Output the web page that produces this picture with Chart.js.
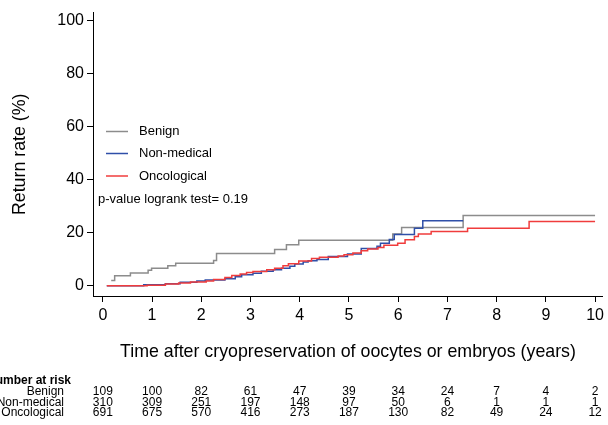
<!DOCTYPE html>
<html>
<head>
<meta charset="utf-8">
<script src="https://cdn.jsdelivr.net/npm/chart.js@4/dist/chart.umd.min.js"></script>
<style>
  html, body { margin: 0; padding: 0; background: #fff; }
  #grafico { display: block; }
</style>
</head>
<body>
<canvas id="grafico" width="608" height="425"></canvas>
<script>
// step curves (time in years, return rate in %)
const benignT = [0.17, 0.24, 0.56, 0.92, 0.99, 1.32, 1.48, 2.25, 2.31, 3.49, 3.73, 3.98, 5.89, 6.07, 7.32, 10.0];
const benignY = [1.9, 3.7, 4.8, 5.8, 6.6, 7.5, 8.5, 9.5, 12.1, 13.6, 15.4, 17.1, 19.5, 21.9, 26.5, 26.5];

const nonMedT = [0.08, 0.83, 1.27, 1.57, 1.91, 2.08, 2.48, 2.69, 2.82, 3.05, 3.22, 3.46, 3.63, 3.80, 3.90, 4.07, 4.17, 4.35, 4.58, 4.97, 5.25, 5.57, 5.64, 5.82, 5.92, 6.33, 6.50, 7.32];
const nonMedY = [0, 0.3, 0.75, 1.3, 1.8, 2.1, 2.6, 3.4, 4.1, 4.7, 5.4, 6.0, 6.6, 7.3, 8.2, 8.9, 9.4, 9.9, 11.0, 11.9, 14.0, 14.9, 16.0, 17.4, 19.3, 21.7, 24.5, 24.5];

const oncoT = [0.08, 0.9, 1.27, 1.54, 1.78, 2.1, 2.25, 2.48, 2.62, 2.79, 2.92, 3.05, 3.33, 3.49, 3.66, 3.77, 3.98, 4.24, 4.4, 4.78, 4.9, 5.08, 5.25, 5.38, 5.59, 5.71, 5.99, 6.14, 6.33, 6.41, 6.67, 7.41, 8.66, 10.0];
const oncoY = [0, 0.2, 0.6, 1.0, 1.4, 1.8, 2.3, 3.1, 3.8, 4.4, 5.0, 5.3, 6.0, 6.6, 7.5, 8.3, 9.3, 10.2, 10.7, 11.2, 11.7, 12.3, 13.2, 13.8, 14.4, 15.2, 16.0, 17.3, 18.5, 19.5, 20.4, 21.7, 24.2, 24.2];

const grupos = ["Benign", "Non-medical", "Oncological"];
const colores = ["#8c8c8c", "#2f4fa8", "#f03c3c"];

const xTicks = [0, 1, 2, 3, 4, 5, 6, 7, 8, 9, 10];
const yTicks = [0, 20, 40, 60, 80, 100];

// number at risk
const riesgoBenign = [109, 100, 82, 61, 47, 39, 34, 24, 7, 4, 2];
const riesgoNonMed = [310, 309, 251, 197, 148, 97, 50, 6, 1, 1, 1];
const riesgoOnco = [691, 675, 570, 416, 273, 187, 130, 82, 49, 24, 12];

const pValor = "p-value logrank test= 0.19";

const fuente = "'Liberation Sans', Arial, sans-serif";

const toPoints = (ts, ys) => ts.map((t, i) => ({ x: t, y: ys[i] }));

const curva = (label, ts, ys, color) => ({
    label: label,
    data: toPoints(ts, ys),
    borderColor: color,
    backgroundColor: color,
    borderWidth: 1.5,
    pointRadius: 0,
    stepped: 'before',
    fill: false
});

const extras = {
    id: 'extras',
    afterDraw(chart) {
        const ctx = chart.ctx;
        const x = chart.scales.x;
        ctx.save();

        // legend inside plot
        const filas = [131.5, 153.5, 176];
        ctx.font = "13px " + fuente;
        ctx.textBaseline = 'middle';
        ctx.textAlign = 'left';
        grupos.forEach((g, i) => {
            ctx.strokeStyle = colores[i];
            ctx.lineWidth = 1.5;
            ctx.beginPath();
            ctx.moveTo(106, filas[i]);
            ctx.lineTo(128, filas[i]);
            ctx.stroke();
            ctx.fillStyle = '#000';
            ctx.fillText(g, 139, filas[i]);
        });
        ctx.fillText(pValor, 98, 199);

        // risk table
        ctx.fillStyle = '#000';
        ctx.font = "bold 12px " + fuente;
        ctx.textAlign = 'left';
        ctx.fillText("Number at risk", -13, 381);
        ctx.font = "12px " + fuente;
        const tabla = [riesgoBenign, riesgoNonMed, riesgoOnco];
        const yFilas = [392, 402.5, 413];
        tabla.forEach((fila, r) => {
            ctx.textAlign = 'right';
            ctx.fillText(grupos[r], 64, yFilas[r]);
            ctx.textAlign = 'center';
            fila.forEach((n, i) => {
                ctx.fillText(String(n), x.getPixelForValue(xTicks[i]), yFilas[r]);
            });
        });
        ctx.restore();
    }
};

new Chart(document.querySelector('#grafico'), {
    type: 'line',
    data: {
        datasets: [
            curva(grupos[2], oncoT, oncoY, colores[2]),
            curva(grupos[1], nonMedT, nonMedY, colores[1]),
            curva(grupos[0], benignT, benignY, colores[0])
        ]
    },
    options: {
        responsive: false,
        animation: false,
        devicePixelRatio: 1,
        layout: { padding: { top: 12, right: 3, left: 0, bottom: 0 } },
        plugins: { legend: { display: false }, tooltip: { enabled: false } },
        scales: {
            x: {
                type: 'linear',
                min: -0.2,
                max: 10.16,
                afterBuildTicks: (s) => { s.ticks = xTicks.map(v => ({ value: v })); },
                afterFit: (s) => { s.height = 129; },
                grid: { display: true, drawOnChartArea: false, drawTicks: true, tickLength: 6, color: '#000' },
                border: { display: true, color: '#000', width: 1 },
                ticks: {
                    autoSkip: false, maxRotation: 0, padding: 4, color: '#000',
                    font: { family: fuente, size: 16 }
                },
                title: {
                    display: true,
                    text: "Time after cryopreservation of oocytes or embryos (years)",
                    color: '#000',
                    font: { family: fuente, size: 17.8 },
                    padding: { top: 0, bottom: 62 }
                }
            },
            y: {
                type: 'linear',
                min: -3.9,
                max: 103,
                afterBuildTicks: (s) => { s.ticks = yTicks.map(v => ({ value: v })); },
                afterFit: (s) => { s.width = 93; },
                grid: { display: true, drawOnChartArea: false, drawTicks: true, tickLength: 6, color: '#000' },
                border: { display: true, color: '#000', width: 1 },
                ticks: {
                    padding: 3, color: '#000',
                    font: { family: fuente, size: 16 }
                },
                title: {
                    display: true,
                    text: "Return rate (%)",
                    color: '#000',
                    font: { family: fuente, size: 17.8 },
                    padding: { top: 9, bottom: 0 }
                }
            }
        }
    },
    plugins: [extras]
});
</script>
</body>
</html>
